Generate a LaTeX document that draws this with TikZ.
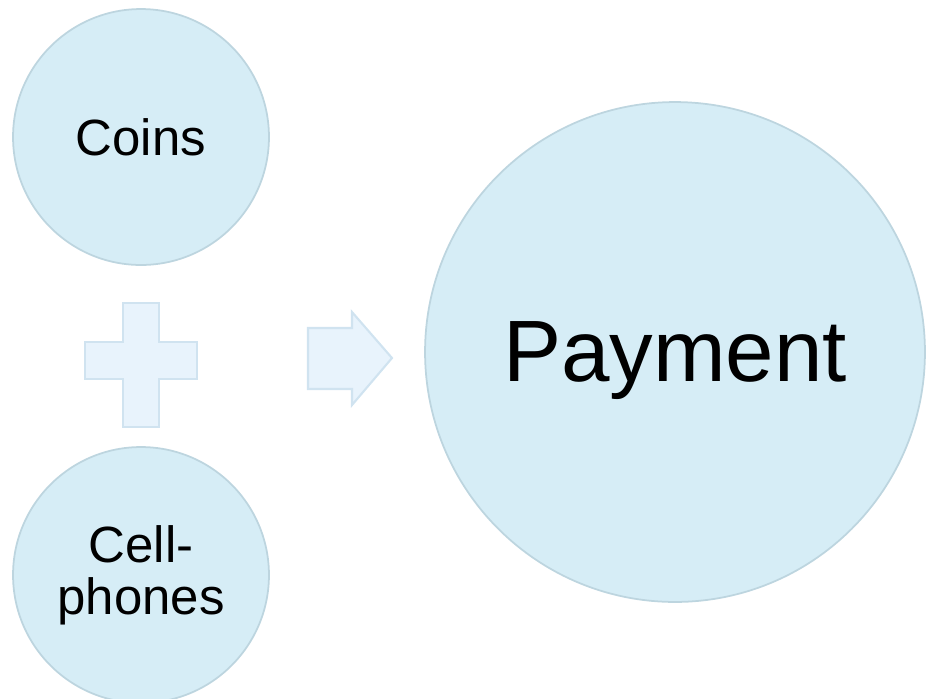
\documentclass[tikz,border=0pt]{standalone}
\usepackage{fontspec}
\setmainfont{Liberation Sans}
\definecolor{bubblefill}{HTML}{D6EDF6}
\definecolor{bubbleedge}{HTML}{BDD5DF}
\definecolor{signfill}{HTML}{E8F3FC}
\definecolor{signedge}{HTML}{D0E3F0}
\tikzset{
  bubble/.style={circle, fill=bubblefill, draw=bubbleedge, line width=1pt, inner sep=0pt, align=center, text=black},
  sign/.style={fill=signfill, draw=signedge, line width=1.2pt, line join=miter}
}
\begin{document}
\begin{tikzpicture}[x=0.02cm, y=-0.02cm]
\useasboundingbox (0,0) rectangle (926,698);

% Left bubbles
\node[bubble, minimum size=5.12cm, font=\fontsize{29}{30}\selectfont] (coins) at (141,137) {Coins};
\node[bubble, minimum size=5.12cm, font=\fontsize{29}{29.6}\selectfont] (phones) at (141,575) {Cell-\\phones};

% Result bubble
\node[bubble, minimum size=10cm, text depth=0pt, font=\fontsize{49.6}{50}\selectfont] (payment) at (675,352) {Payment};

% Plus sign
\draw[sign] (123,303) -- (159,303) -- (159,342) -- (197,342) -- (197,379) -- (159,379)
  -- (159,427) -- (123,427) -- (123,379) -- (85,379) -- (85,342) -- (123,342) -- cycle;

% Block arrow
\draw[sign] (308,328) -- (352,328) -- (352,312) -- (392,358) -- (352,405) -- (352,389)
  -- (308,389) -- cycle;
\end{tikzpicture}
\end{document}
